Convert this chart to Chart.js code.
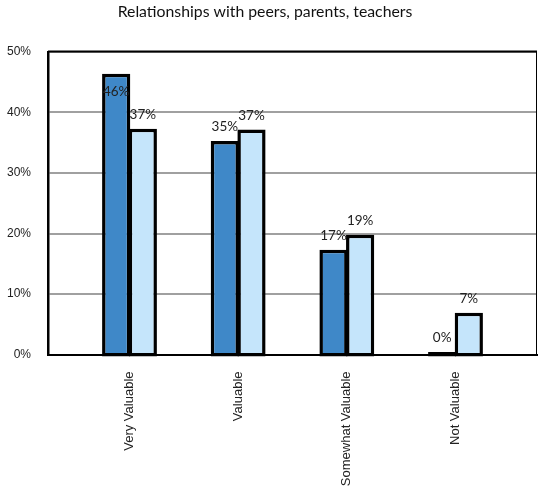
<!DOCTYPE html>
<html>
<head>
<meta charset="utf-8">
<script src="https://cdn.jsdelivr.net/npm/chart.js@4/dist/chart.umd.min.js"></script>
<style>
html,body{margin:0;padding:0;background:#fff;}
#wrap{width:538px;height:491px;position:relative;}
</style>
</head>
<body>
<div id="wrap"><canvas id="c" width="538" height="491"></canvas></div>
<script>
const chartTitle = "Relationships with peers, parents, teachers";
const categories = ["Very Valuable", "Valuable", "Somewhat Valuable", "Not Valuable"];
const seriesA = [46.4, 35.3, 17.3, 0.4];
const seriesB = [37.3, 37.2, 19.8, 6.9];
const labelsA = ["46%", "35%", "17%", "0%"];
const labelsB = ["37%", "37%", "19%", "7%"];
const yTicks = [0, 10, 20, 30, 40, 50];

const toPoints = arr => arr.map((v, i) => ({x: i, y: v}));

const titlePlugin = {
  id: 'titleText',
  afterDraw(chart) {
    const ctx = chart.ctx;
    ctx.save();
    ctx.font = '15.8px Lato';
    ctx.fillStyle = '#111';
    ctx.textAlign = 'center';
    ctx.textBaseline = 'middle';
    ctx.fillText(chartTitle, 265, 12);
    ctx.restore();
  }
};

const framePlugin = {
  id: 'frame',
  beforeDatasetsDraw(chart) {
    const {ctx, chartArea: a} = chart;
    ctx.save();
    ctx.strokeStyle = '#000';
    ctx.lineWidth = 2;
    ctx.beginPath();
    ctx.moveTo(a.left, a.top - 0.5);
    ctx.lineTo(a.right, a.top - 0.5);
    ctx.stroke();
    ctx.lineWidth = 1;
    ctx.beginPath();
    ctx.moveTo(a.right - 0.5, a.top);
    ctx.lineTo(a.right - 0.5, a.bottom);
    ctx.stroke();
    ctx.restore();
  }
};

const labelPlugin = {
  id: 'valueLabels',
  afterDatasetsDraw(chart) {
    const {ctx, chartArea: a} = chart;
    ctx.save();
    ctx.font = '13.5px Lato';
    ctx.fillStyle = '#222';
    ctx.textAlign = 'center';
    ctx.textBaseline = 'middle';
    chart.data.datasets.forEach((ds, di) => {
      const meta = chart.getDatasetMeta(di);
      meta.data.forEach((el, i) => {
        let y = el.y - 14;
        if (y < a.top + 12) y = el.y + 18;
        ctx.fillText(ds.valueLabels[i], el.x, y);
      });
    });
    ctx.restore();
  }
};

const barStyle = {
  borderColor: '#000',
  borderWidth: 3.5,
  borderSkipped: false,
  categoryPercentage: 0.49,
  barPercentage: 1.06,
  base: -0.35,
  clip: false
};

new Chart(document.getElementById('c'), {
  type: 'bar',
  data: {
    datasets: [
      Object.assign({data: toPoints(seriesA), valueLabels: labelsA, backgroundColor: '#3f88c8'}, barStyle),
      Object.assign({data: toPoints(seriesB), valueLabels: labelsB, backgroundColor: '#c5e5fb'}, barStyle)
    ]
  },
  options: {
    responsive: false,
    animation: false,
    devicePixelRatio: 1,
    layout: {padding: {top: 52, right: 1, left: 0, bottom: 0}},
    plugins: {legend: {display: false}, tooltip: {enabled: false}, title: {display: false}},
    scales: {
      x: {
        type: 'linear',
        offset: false,
        min: -0.75,
        max: 3.75,
        afterBuildTicks(scale) { scale.ticks = categories.map((c, i) => ({value: i})); },
        afterFit(scale) { scale.height = 136.5; },
        ticks: {
          callback: v => categories[v],
          minRotation: 90,
          maxRotation: 90,
          autoSkip: false,
          padding: 17,
          color: '#222',
          font: {family: '"Liberation Sans", Arial', size: 13}
        },
        grid: {display: true, offset: false, drawOnChartArea: false, drawTicks: false, color: 'rgba(0,0,0,0)'},
        border: {display: true, color: '#000', width: 2}
      },
      y: {
        min: 0,
        max: 50,
        afterBuildTicks(scale) { scale.ticks = yTicks.map(v => ({value: v})); },
        afterFit(scale) { scale.width = 48; },
        ticks: {
          callback: v => v + '%',
          padding: 17,
          color: '#222',
          font: {family: '"Liberation Sans", Arial', size: 12}
        },
        grid: {drawTicks: false, color: '#a0a0a0', lineWidth: 2},
        border: {display: true, color: '#000', width: 2.5}
      }
    }
  },
  plugins: [titlePlugin, framePlugin, labelPlugin]
});
</script>
</body>
</html>
